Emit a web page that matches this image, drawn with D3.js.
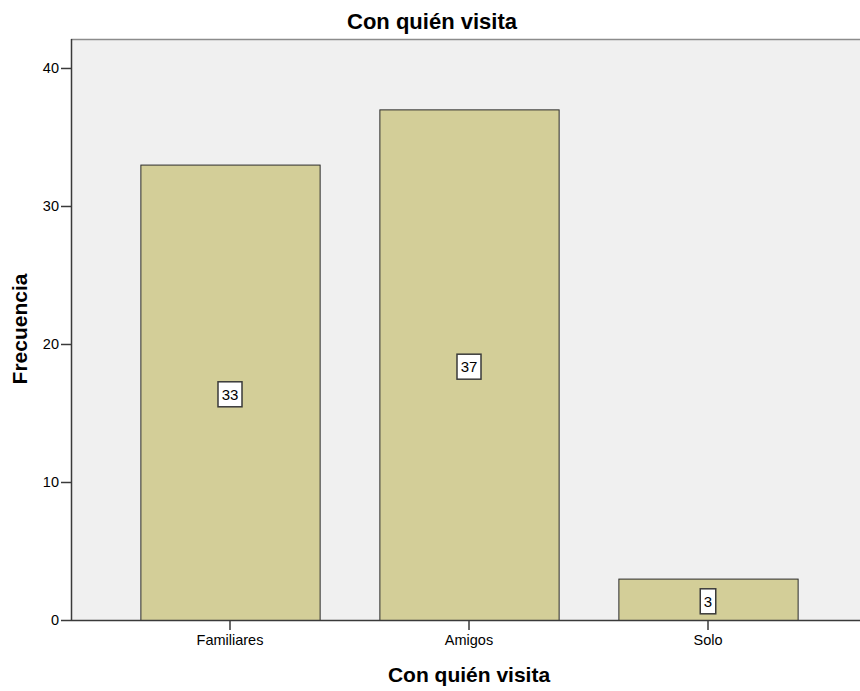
<!DOCTYPE html>
<html>
<head>
<meta charset="utf-8">
<script src="https://cdn.jsdelivr.net/npm/d3@7"></script>
<style>
  body { margin: 0; background: #fff; }
  svg { display: block; font-family: "Liberation Sans", Arial, sans-serif; }
</style>
</head>
<body>
<svg id="chart" width="860" height="691"></svg>
<script>
// Frequency of "Con quién visita" answers
const categories = ["Familiares", "Amigos", "Solo"];
const counts = [33, 37, 3];
const yTicks = [0, 10, 20, 30, 40];

const svg = d3.select("#chart");
const plot = { left: 71, right: 860, top: 39, bottom: 620 };

const x = d3.scaleBand()
  .domain(categories)
  .range([110.5, 827.5])
  .paddingInner(0.25)
  .paddingOuter(0.125);

const y = d3.scaleLinear()
  .domain([0, 42.1])
  .range([plot.bottom, plot.top]);

// plot background
svg.append("rect")
  .attr("x", plot.left).attr("y", plot.top)
  .attr("width", plot.right - plot.left)
  .attr("height", plot.bottom - plot.top)
  .attr("fill", "#f0f0f0");

// top frame line
svg.append("line")
  .attr("x1", plot.left).attr("x2", plot.right)
  .attr("y1", plot.top + 0.5).attr("y2", plot.top + 0.5)
  .attr("stroke", "#8c8c8c").attr("stroke-width", 1.5);

// bars
svg.append("g").selectAll("rect")
  .data(categories)
  .join("rect")
  .attr("x", (d) => x(d) + 0.5)
  .attr("y", (d, i) => y(counts[i]) + 0.5)
  .attr("width", x.bandwidth())
  .attr("height", (d, i) => y(0) - y(counts[i]))
  .attr("fill", "#d3ce98")
  .attr("stroke", "#2b2b2b")
  .attr("stroke-width", 1);

// value labels in the middle of each bar
const labels = svg.append("g").selectAll("g")
  .data(categories)
  .join("g")
  .attr("transform", (d, i) =>
    `translate(${x(d) + x.bandwidth() / 2},${y(counts[i] / 2) + 2})`);

labels.each(function (d, i) {
  const g = d3.select(this);
  const txt = String(counts[i]);
  const w = txt.length * 8.5 + 7;
  g.append("rect")
    .attr("x", -w / 2).attr("y", -12.5)
    .attr("width", w).attr("height", 25)
    .attr("fill", "#fff")
    .attr("stroke", "#3a3a3a").attr("stroke-width", 1.5);
  g.append("text")
    .attr("text-anchor", "middle")
    .attr("dy", "0.36em")
    .attr("font-size", 15)
    .attr("fill", "#000")
    .text(txt);
});

// y axis
const yAxis = svg.append("g")
  .attr("transform", `translate(${plot.left},0)`)
  .call(d3.axisLeft(y).tickValues(yTicks).tickSize(10).tickPadding(2))
  .call((g) => g.select(".domain").attr("d", `M0.5,${plot.top}V${plot.bottom}`)
    .attr("stroke", "#3a3a3a").attr("stroke-width", 1.5));
yAxis.selectAll(".tick line").attr("stroke", "#3a3a3a").attr("stroke-width", 1.5);
yAxis.selectAll(".tick text").attr("font-size", 14.5).attr("fill", "#000")
  .attr("font-family", "Liberation Sans, Arial, sans-serif");

// x axis
const xAxis = svg.append("g")
  .attr("transform", `translate(0,${plot.bottom})`)
  .call(d3.axisBottom(x).tickSize(10).tickPadding(5))
  .call((g) => g.select(".domain").attr("d", `M${plot.left},0.5H${plot.right}`)
    .attr("stroke", "#3a3a3a").attr("stroke-width", 1.5));
xAxis.selectAll(".tick line").attr("stroke", "#3a3a3a").attr("stroke-width", 1.5);
xAxis.selectAll(".tick text").attr("font-size", 14.5).attr("fill", "#000")
  .attr("font-family", "Liberation Sans, Arial, sans-serif");

// titles
svg.append("text")
  .attr("x", 432).attr("y", 29)
  .attr("text-anchor", "middle")
  .attr("font-size", 22).attr("font-weight", "bold")
  .text("Con quién visita");

svg.append("text")
  .attr("x", 469).attr("y", 682)
  .attr("text-anchor", "middle")
  .attr("font-size", 21).attr("font-weight", "bold")
  .text("Con quién visita");

svg.append("text")
  .attr("transform", "translate(27,329) rotate(-90)")
  .attr("text-anchor", "middle")
  .attr("font-size", 21).attr("font-weight", "bold")
  .text("Frecuencia");
</script>
</body>
</html>
